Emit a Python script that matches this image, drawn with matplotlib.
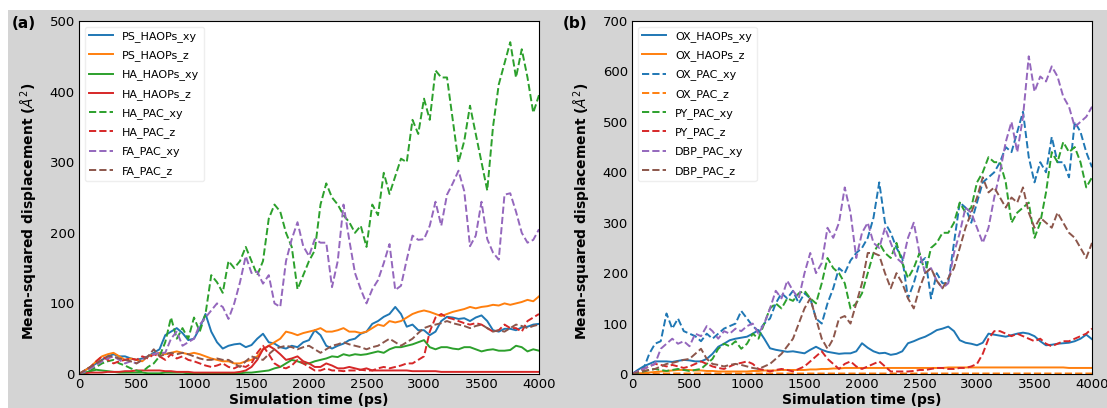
import numpy as np
import matplotlib.pyplot as plt
from matplotlib.patches import Rectangle

# time grid (ps), one value every 50 ps
time_ps = np.arange(0, 4001, 50)

# ---------- panel (a) ----------
ps_haops_xy = [0, 5, 10, 15, 20, 25, 28, 25, 25, 22, 20, 22, 25, 30, 35, 55, 60, 65, 58, 48,
               50, 65, 85, 60, 45, 36, 40, 42, 43, 38, 41, 50, 57, 45, 43, 38, 36, 40, 38, 45,
               48, 62, 55, 40, 36, 40, 43, 48, 50, 57, 60, 71, 75, 81, 85, 95, 85, 67, 70, 62,
               62, 55, 60, 75, 81, 80, 78, 79, 75, 80, 83, 75, 62, 60, 64, 64, 62, 66, 67, 70, 71]
ps_haops_z = [0, 5, 10, 18, 25, 28, 30, 25, 20, 22, 20, 18, 25, 28, 30, 28, 30, 32, 30, 28,
              30, 28, 25, 22, 20, 18, 18, 15, 15, 18, 20, 25, 35, 40, 45, 50, 60, 58, 55, 58,
              60, 62, 65, 60, 60, 62, 65, 60, 60, 58, 60, 65, 70, 68, 75, 73, 75, 80, 85, 88,
              90, 88, 85, 82, 85, 88, 90, 92, 95, 93, 95, 96, 98, 97, 100, 98, 100, 102, 105, 103, 110]
ha_haops_xy = [0, 2, 4, 6, 5, 4, 3, 2, 2, 2, 2, 2, 1, 1, 1, 2, 2, 2, 2, 1,
               1, 1, 1, 1, 1, 1, 1, 1, 1, 2, 2, 3, 4, 5, 8, 10, 15, 20, 18, 15,
               15, 18, 20, 22, 25, 24, 28, 26, 28, 27, 28, 30, 32, 30, 35, 38, 38, 40, 42, 45,
               48, 38, 35, 38, 38, 36, 35, 38, 38, 35, 32, 34, 35, 33, 33, 34, 40, 38, 32, 35, 33]
ha_haops_z = [0, 1, 2, 2, 2, 3, 3, 3, 4, 4, 5, 5, 5, 5, 5, 4, 4, 3, 3, 3,
              2, 2, 2, 2, 2, 2, 2, 2, 3, 5, 10, 20, 35, 40, 35, 28, 20, 22, 25, 18,
              15, 10, 10, 15, 12, 8, 8, 10, 8, 6, 8, 5, 5, 5, 5, 5, 5, 5, 4, 4,
              4, 4, 4, 3, 3, 3, 3, 3, 3, 3, 3, 3, 3, 3, 3, 3, 3, 3, 3, 3, 3]
ha_pac_xy = [0, 2, 5, 10, 15, 18, 20, 15, 12, 8, 5, 3, 10, 15, 25, 45, 80, 50, 65, 50,
             80, 60, 85, 140, 130, 115, 160, 150, 160, 180, 160, 140, 160, 220, 240, 230, 200, 180, 120, 140,
             160, 175, 240, 270, 250, 240, 225, 215, 200, 210, 180, 240, 225, 285, 255, 280, 305, 300, 360, 340,
             390, 360, 430, 420, 420, 360, 300, 330, 380, 340, 300, 260, 350, 410, 440, 470, 420, 460, 420, 370, 395]
ha_pac_z = [0, 5, 10, 18, 25, 20, 15, 18, 20, 22, 20, 25, 22, 28, 25, 20, 28, 22, 25, 20,
            18, 15, 12, 10, 12, 15, 10, 8, 12, 10, 15, 30, 40, 28, 15, 10, 8, 12, 20, 15,
            10, 5, 5, 8, 5, 5, 4, 5, 5, 6, 5, 5, 8, 10, 8, 10, 12, 15, 15, 20,
            25, 60, 80, 85, 80, 78, 75, 72, 70, 72, 70, 65, 60, 62, 70, 65, 65, 60, 75, 80, 85]
fa_pac_xy = [0, 3, 8, 12, 18, 22, 25, 20, 15, 18, 15, 20, 25, 28, 30, 30, 50, 60, 40, 45,
             50, 70, 80, 90, 100, 95, 78, 100, 130, 167, 143, 145, 128, 140, 100, 95, 160, 191, 215, 181,
             167, 191, 186, 186, 123, 160, 240, 190, 143, 120, 100, 120, 133, 157, 184, 119, 125, 162, 196, 190,
             191, 210, 244, 210, 254, 270, 288, 259, 181, 196, 244, 191, 172, 162, 254, 256, 230, 200, 186, 190, 205]
fa_pac_z = [0, 5, 10, 15, 20, 25, 25, 22, 20, 18, 15, 20, 25, 35, 25, 28, 30, 28, 30, 28,
            25, 22, 20, 20, 22, 20, 20, 15, 10, 18, 25, 22, 20, 28, 35, 38, 40, 38, 35, 38,
            40, 35, 30, 35, 40, 42, 45, 42, 40, 38, 35, 38, 40, 45, 50, 45, 40, 45, 50, 58,
            65, 68, 70, 72, 75, 72, 70, 68, 65, 68, 70, 65, 60, 62, 60, 65, 70, 68, 65, 68, 70]

# ---------- panel (b) ----------
ox_haops_xy = [0, 8, 15, 20, 25, 25, 25, 24, 26, 28, 27, 25, 25, 30, 40, 54, 60, 67, 70, 72,
               74, 80, 87, 70, 51, 48, 46, 44, 45, 43, 41, 48, 54, 48, 44, 42, 40, 41, 41, 45,
               61, 52, 45, 41, 42, 38, 40, 45, 61, 65, 70, 74, 80, 87, 90, 94, 85, 67, 62, 60,
               57, 62, 80, 78, 76, 74, 77, 80, 82, 80, 75, 65, 57, 58, 60, 61, 62, 65, 70, 78, 69]
ox_haops_z = [0, 1, 2, 3, 4, 5, 6, 7, 8, 8, 8, 7, 7, 6, 6, 5, 5, 5, 5, 5,
              5, 6, 6, 7, 7, 7, 8, 8, 8, 8, 8, 9, 9, 10, 10, 11, 11, 12, 12, 12,
              12, 12, 12, 12, 12, 12, 12, 12, 12, 12, 12, 12, 12, 12, 12, 13, 13, 13, 13, 13,
              13, 13, 13, 13, 13, 13, 13, 13, 13, 13, 13, 13, 13, 13, 13, 13, 12, 12, 12, 12, 12]
ox_pac_xy = [0, 5, 10, 40, 60, 65, 120, 90, 110, 85, 80, 75, 65, 80, 70, 80, 90, 95, 100, 125,
             110, 95, 85, 100, 110, 140, 160, 150, 165, 140, 160, 150, 110, 100, 140, 170, 210, 200, 225, 240,
             250, 270, 310, 380, 300, 280, 250, 230, 150, 180, 220, 230, 150, 200, 180, 180, 260, 340, 330, 300,
             340, 380, 390, 400, 420, 450, 440, 480, 520, 430, 380, 420, 400, 470, 420, 420, 390, 500, 480, 440, 410]
ox_pac_z = [0, 1, 1, 1, 1, 1, 1, 1, 1, 1, 1, 1, 1, 1, 1, 1, 1, 1, 1, 1,
            1, 1, 1, 1, 1, 1, 1, 1, 1, 1, 1, 1, 1, 1, 1, 1, 1, 1, 1, 1,
            1, 1, 1, 1, 1, 1, 1, 1, 1, 1, 1, 1, 1, 1, 1, 1, 1, 1, 1, 1,
            1, 1, 1, 1, 1, 1, 1, 1, 1, 1, 1, 1, 1, 1, 1, 1, 1, 1, 1, 1, 1]
py_pac_xy = [0, 2, 5, 8, 10, 8, 6, 8, 10, 8, 6, 8, 10, 20, 30, 50, 60, 55, 65, 50,
             60, 80, 70, 100, 130, 140, 130, 150, 145, 160, 165, 150, 140, 180, 230, 210, 200, 180, 130, 140,
             160, 200, 240, 260, 240, 230, 260, 220, 190, 210, 240, 200, 250, 260, 280, 280, 300, 340, 320, 330,
             380, 400, 430, 420, 420, 380, 300, 320, 330, 340, 270, 300, 360, 440, 420, 460, 440, 450, 420, 370, 390]
py_pac_z = [0, 5, 10, 15, 20, 18, 15, 18, 15, 12, 15, 20, 25, 20, 15, 12, 10, 15, 20, 22,
            25, 20, 10, 8, 5, 8, 10, 8, 5, 10, 15, 25, 35, 45, 30, 20, 10, 20, 25, 15,
            10, 15, 20, 25, 15, 5, 5, 5, 5, 6, 8, 8, 10, 12, 12, 10, 10, 12, 12, 15,
            20, 40, 70, 85, 85, 80, 75, 80, 75, 70, 65, 70, 60, 55, 60, 65, 65, 70, 75, 80, 90]
dbp_pac_xy = [0, 5, 10, 15, 20, 50, 60, 70, 60, 65, 55, 80, 75, 95, 85, 70, 85, 80, 90, 85,
              95, 100, 80, 100, 130, 165, 150, 185, 165, 150, 200, 240, 200, 220, 290, 270, 300, 370, 320, 230,
              280, 300, 260, 250, 290, 260, 230, 220, 270, 300, 240, 200, 210, 185, 170, 180, 240, 280, 330, 320,
              290, 260, 290, 350, 400, 460, 500, 440, 510, 630, 560, 590, 580, 610, 590, 550, 530, 490, 500, 510, 530]
dbp_pac_z = [0, 3, 6, 8, 10, 15, 20, 22, 25, 28, 30, 40, 50, 30, 20, 18, 15, 18, 20, 18,
             15, 12, 10, 15, 20, 30, 40, 55, 70, 100, 130, 150, 110, 70, 50, 70, 110, 115, 100, 140,
             180, 240, 240, 235, 200, 170, 200, 180, 150, 130, 170, 200, 210, 185, 170, 190, 210, 250, 290, 320,
             350, 390, 360, 370, 350, 330, 350, 340, 370, 320, 290, 310, 300, 290, 320, 300, 280, 270, 250, 230, 260]

colors = plt.rcParams["axes.prop_cycle"].by_key()["color"]

series_a = [
    ("PS_HAOPs_xy", ps_haops_xy, colors[0], "-"),
    ("PS_HAOPs_z", ps_haops_z, colors[1], "-"),
    ("HA_HAOPs_xy", ha_haops_xy, colors[2], "-"),
    ("HA_HAOPs_z", ha_haops_z, colors[3], "-"),
    ("HA_PAC_xy", ha_pac_xy, colors[2], "--"),
    ("HA_PAC_z", ha_pac_z, colors[3], "--"),
    ("FA_PAC_xy", fa_pac_xy, colors[4], "--"),
    ("FA_PAC_z", fa_pac_z, colors[5], "--"),
]
series_b = [
    ("OX_HAOPs_xy", ox_haops_xy, colors[0], "-"),
    ("OX_HAOPs_z", ox_haops_z, colors[1], "-"),
    ("OX_PAC_xy", ox_pac_xy, colors[0], "--"),
    ("OX_PAC_z", ox_pac_z, colors[1], "--"),
    ("PY_PAC_xy", py_pac_xy, colors[2], "--"),
    ("PY_PAC_z", py_pac_z, colors[3], "--"),
    ("DBP_PAC_xy", dbp_pac_xy, colors[4], "--"),
    ("DBP_PAC_z", dbp_pac_z, colors[5], "--"),
]

W, H = 1107, 408
fig = plt.figure(figsize=(W / 100, H / 100), dpi=100, facecolor="white")
# grey panel background with thin white margin at top and left
fig.patches.append(Rectangle((8 / W, 0), 1 - 8 / W, 1 - 10 / H,
                             transform=fig.transFigure, facecolor="#d4d4d4",
                             edgecolor="none", zorder=-10))

ax_a = fig.add_axes([79 / W, (H - 374) / H, 460 / W, 353 / H])
ax_b = fig.add_axes([632 / W, (H - 374) / H, 460 / W, 353 / H])

for ax, series, ymax, tag, tag_x in [(ax_a, series_a, 500, "(a)", 12),
                                     (ax_b, series_b, 700, "(b)", 563)]:
    for name, vals, c, ls in series:
        ax.plot(time_ps, vals, color=c, linestyle=ls, linewidth=1.4, label=name)
    ax.set_xlim(0, 4000)
    ax.set_ylim(0, ymax)
    ax.set_xticks(range(0, 4001, 500))
    ax.set_yticks(range(0, ymax + 1, 100))
    ax.tick_params(length=0, pad=3, labelsize=9.5)
    ax.set_xlabel("Simulation time (ps)", fontsize=10, fontweight="bold", labelpad=1)
    ax.set_ylabel(r"Mean-squared displacement ($\AA^2$)", fontsize=10,
                  fontweight="bold")
    ax.yaxis.set_label_coords(-0.085, 0.46)
    ax.legend(loc="upper left", fontsize=8, frameon=True, framealpha=1,
              edgecolor="#eeeeee", handlelength=2.2, labelspacing=0.75)
    fig.text(tag_x / W, 1 - 24 / H, tag, fontsize=11, fontweight="bold", va="center")

fig.savefig("out.png", dpi=100, facecolor=fig.get_facecolor())
